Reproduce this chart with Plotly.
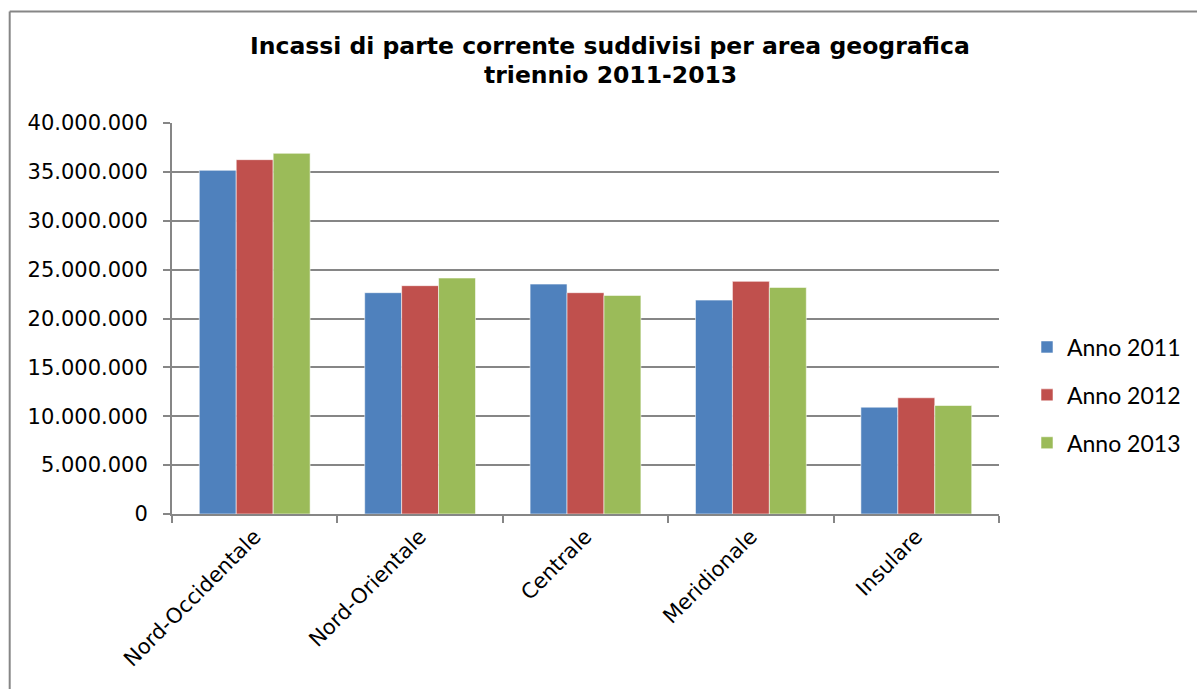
import plotly.graph_objects as go

# Geographic areas and receipts per year (euro)
aree = ["Nord-Occidentale", "Nord-Orientale", "Centrale", "Meridionale", "Insulare"]
anno_2011 = [35160000, 22640000, 23520000, 21880000, 10930000]
anno_2012 = [36250000, 23360000, 22640000, 23800000, 11890000]
anno_2013 = [36900000, 24140000, 22360000, 23180000, 11100000]
serie_nomi = ["Anno 2011", "Anno 2012", "Anno 2013"]
colori = ["#4F81BD", "#C0504D", "#9BBB59"]
y_ticks = [0, 5000000, 10000000, 15000000, 20000000, 25000000, 30000000, 35000000, 40000000]
titolo = ["Incassi di parte corrente suddivisi per area geografica", "triennio 2011-2013"]

W, H = 1197, 689
L, R, T, B = 172, 197, 123, 175

fig = go.Figure()
for nome, valori, col in zip(serie_nomi, [anno_2011, anno_2012, anno_2013], colori):
    fig.add_trace(go.Bar(
        x=aree, y=valori, name=nome, legendgroup=nome,
        marker=dict(color=col, line=dict(color="rgba(255,255,255,0.55)", width=1)),
    ))

pw = W - L - R
ph = H - T - B


def px_x(px):
    return (px - L) / pw


def px_y(py):
    return (H - B - py) / ph


grey = "#868686"
fig.update_layout(
    width=W, height=H,
    margin=dict(l=L, r=R, t=T, b=B, pad=0),
    paper_bgcolor="white", plot_bgcolor="white",
    separators=",.",
    barmode="group", bargap=0.33, bargroupgap=0,
    font=dict(family="DejaVu Sans", size=21, color="#000000"),
    legend=dict(
        x=px_x(1027), xanchor="left", y=px_y(395), yanchor="middle",
        font=dict(family="Lato", size=23, color="#000000"),
        tracegroupgap=15, bgcolor="rgba(0,0,0,0)",
    ),
    showlegend=True,
    xaxis=dict(
        showline=True, linecolor=grey, linewidth=2,
        ticks="outside", tickson="boundaries", ticklen=7, tickcolor=grey, tickwidth=2,
        tickangle=-45, tickfont=dict(family="DejaVu Sans", size=21, color="#000000"),
        showgrid=False,
    ),
    yaxis=dict(
        range=[0, 40000000], tickvals=y_ticks, tickformat=",d",
        showline=True, linecolor=grey, linewidth=2,
        ticks="outside", ticklen=7, tickcolor=grey, tickwidth=2,
        showgrid=True, gridcolor=grey, gridwidth=2,
        tickfont=dict(family="DejaVu Sans", size=21, color="#000000"),
        ticklabelstandoff=11, zeroline=False,
    ),
)

# Two-line bold title
for riga, yc in zip(titolo, [46, 75]):
    fig.add_annotation(
        text=f"<b>{riga}</b>", xref="paper", yref="paper",
        x=px_x(611), y=px_y(yc), xanchor="center", yanchor="middle",
        showarrow=False, font=dict(family="DejaVu Sans", size=23.5, color="#000000"),
    )

# Chart frame (left and top edges)
fig.add_shape(type="line", xref="paper", yref="paper",
              x0=px_x(9.5), x1=px_x(W + 10), y0=px_y(11.5), y1=px_y(11.5),
              line=dict(color=grey, width=2))
fig.add_shape(type="line", xref="paper", yref="paper",
              x0=px_x(9.5), x1=px_x(9.5), y0=px_y(11.5), y1=px_y(H + 10),
              line=dict(color=grey, width=2))

fig.write_html("out.html")
